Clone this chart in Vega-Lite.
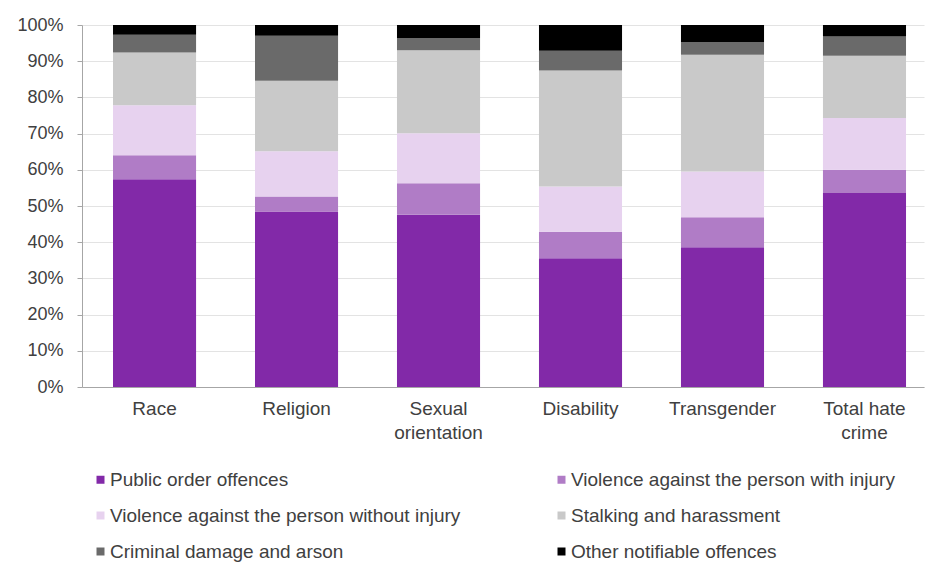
{
  "$schema": "https://vega.github.io/schema/vega-lite/v6.json",
  "autosize": {"type": "none"},
  "padding": {"left": 82, "top": 25, "right": 2, "bottom": 176},
  "width": 842,
  "height": 362,
  "background": "white",
  "config": {
    "view": {"stroke": null},
    "font": "Liberation Sans",
    "axis": {"labelFont": "Liberation Sans", "labelColor": "#404040"},
    "legend": {"labelFont": "Liberation Sans", "labelColor": "#404040"}
  },
  "data": {
    "values": [
      {"cat": "Race", "type": "Public order offences", "k": 1, "v": 57.4},
      {"cat": "Race", "type": "Violence against the person with injury", "k": 2, "v": 6.6},
      {"cat": "Race", "type": "Violence against the person without injury", "k": 3, "v": 13.8},
      {"cat": "Race", "type": "Stalking and harassment", "k": 4, "v": 14.6},
      {"cat": "Race", "type": "Criminal damage and arson", "k": 5, "v": 4.9},
      {"cat": "Race", "type": "Other notifiable offences", "k": 6, "v": 2.7},
      {"cat": "Religion", "type": "Public order offences", "k": 1, "v": 48.5},
      {"cat": "Religion", "type": "Violence against the person with injury", "k": 2, "v": 4.1},
      {"cat": "Religion", "type": "Violence against the person without injury", "k": 3, "v": 12.5},
      {"cat": "Religion", "type": "Stalking and harassment", "k": 4, "v": 19.5},
      {"cat": "Religion", "type": "Criminal damage and arson", "k": 5, "v": 12.4},
      {"cat": "Religion", "type": "Other notifiable offences", "k": 6, "v": 3.0},
      {"cat": "Sexual orientation", "type": "Public order offences", "k": 1, "v": 47.6},
      {"cat": "Sexual orientation", "type": "Violence against the person with injury", "k": 2, "v": 8.7},
      {"cat": "Sexual orientation", "type": "Violence against the person without injury", "k": 3, "v": 13.8},
      {"cat": "Sexual orientation", "type": "Stalking and harassment", "k": 4, "v": 22.9},
      {"cat": "Sexual orientation", "type": "Criminal damage and arson", "k": 5, "v": 3.4},
      {"cat": "Sexual orientation", "type": "Other notifiable offences", "k": 6, "v": 3.6},
      {"cat": "Disability", "type": "Public order offences", "k": 1, "v": 35.6},
      {"cat": "Disability", "type": "Violence against the person with injury", "k": 2, "v": 7.3},
      {"cat": "Disability", "type": "Violence against the person without injury", "k": 3, "v": 12.5},
      {"cat": "Disability", "type": "Stalking and harassment", "k": 4, "v": 32.0},
      {"cat": "Disability", "type": "Criminal damage and arson", "k": 5, "v": 5.5},
      {"cat": "Disability", "type": "Other notifiable offences", "k": 6, "v": 7.1},
      {"cat": "Transgender", "type": "Public order offences", "k": 1, "v": 38.6},
      {"cat": "Transgender", "type": "Violence against the person with injury", "k": 2, "v": 8.3},
      {"cat": "Transgender", "type": "Violence against the person without injury", "k": 3, "v": 12.6},
      {"cat": "Transgender", "type": "Stalking and harassment", "k": 4, "v": 32.3},
      {"cat": "Transgender", "type": "Criminal damage and arson", "k": 5, "v": 3.5},
      {"cat": "Transgender", "type": "Other notifiable offences", "k": 6, "v": 4.7},
      {"cat": "Total hate crime", "type": "Public order offences", "k": 1, "v": 53.6},
      {"cat": "Total hate crime", "type": "Violence against the person with injury", "k": 2, "v": 6.4},
      {"cat": "Total hate crime", "type": "Violence against the person without injury", "k": 3, "v": 14.3},
      {"cat": "Total hate crime", "type": "Stalking and harassment", "k": 4, "v": 17.2},
      {"cat": "Total hate crime", "type": "Criminal damage and arson", "k": 5, "v": 5.3},
      {"cat": "Total hate crime", "type": "Other notifiable offences", "k": 6, "v": 3.2}
    ]
  },
  "mark": {"type": "bar"},
  "encoding": {
    "x": {
      "field": "cat",
      "type": "nominal",
      "sort": null,
      "title": null,
      "scale": {"paddingInner": 0.415, "paddingOuter": 0.1725, "align": 0.633},
      "axis": {
        "labelAngle": 0,
        "labelFontSize": 19,
        "labelPadding": 12,
        "labelLineHeight": 24,
        "labelBaseline": "top",
        "ticks": false,
        "domainColor": "#A6A6A6",
        "labelExpr": "datum.value == 'Sexual orientation' ? ['Sexual', 'orientation'] : datum.value == 'Total hate crime' ? ['Total hate', 'crime'] : datum.value"
      }
    },
    "y": {
      "field": "v",
      "type": "quantitative",
      "stack": "zero",
      "title": null,
      "scale": {"domain": [0, 100]},
      "axis": {
        "values": [0, 10, 20, 30, 40, 50, 60, 70, 80, 90, 100],
        "labelExpr": "datum.value + '%'",
        "labelFontSize": 18,
        "labelPadding": 14,
        "tickSize": 5,
        "tickColor": "#A6A6A6",
        "domainColor": "#A6A6A6",
        "gridColor": "#E3E3E3",
        "grid": true
      }
    },
    "order": {"field": "k", "type": "quantitative", "sort": "ascending"},
    "color": {
      "field": "type",
      "type": "nominal",
      "title": null,
      "scale": {
        "domain": ["Public order offences", "Violence against the person with injury", "Violence against the person without injury", "Stalking and harassment", "Criminal damage and arson", "Other notifiable offences"],
        "range": ["#8229A8", "#B07CC6", "#E7D2EF", "#C9C9C9", "#6A6A6A", "#000000"]
      },
      "legend": {
        "orient": "none",
        "legendX": 9,
        "legendY": 445,
        "columns": 2,
        "direction": "horizontal",
        "symbolType": "square",
        "symbolSize": 64,
        "symbolStrokeWidth": 0,
        "labelFontSize": 19,
        "labelOffset": 0,
        "labelLimit": 500,
        "rowPadding": 16,
        "columnPadding": 91
      }
    }
  }
}
